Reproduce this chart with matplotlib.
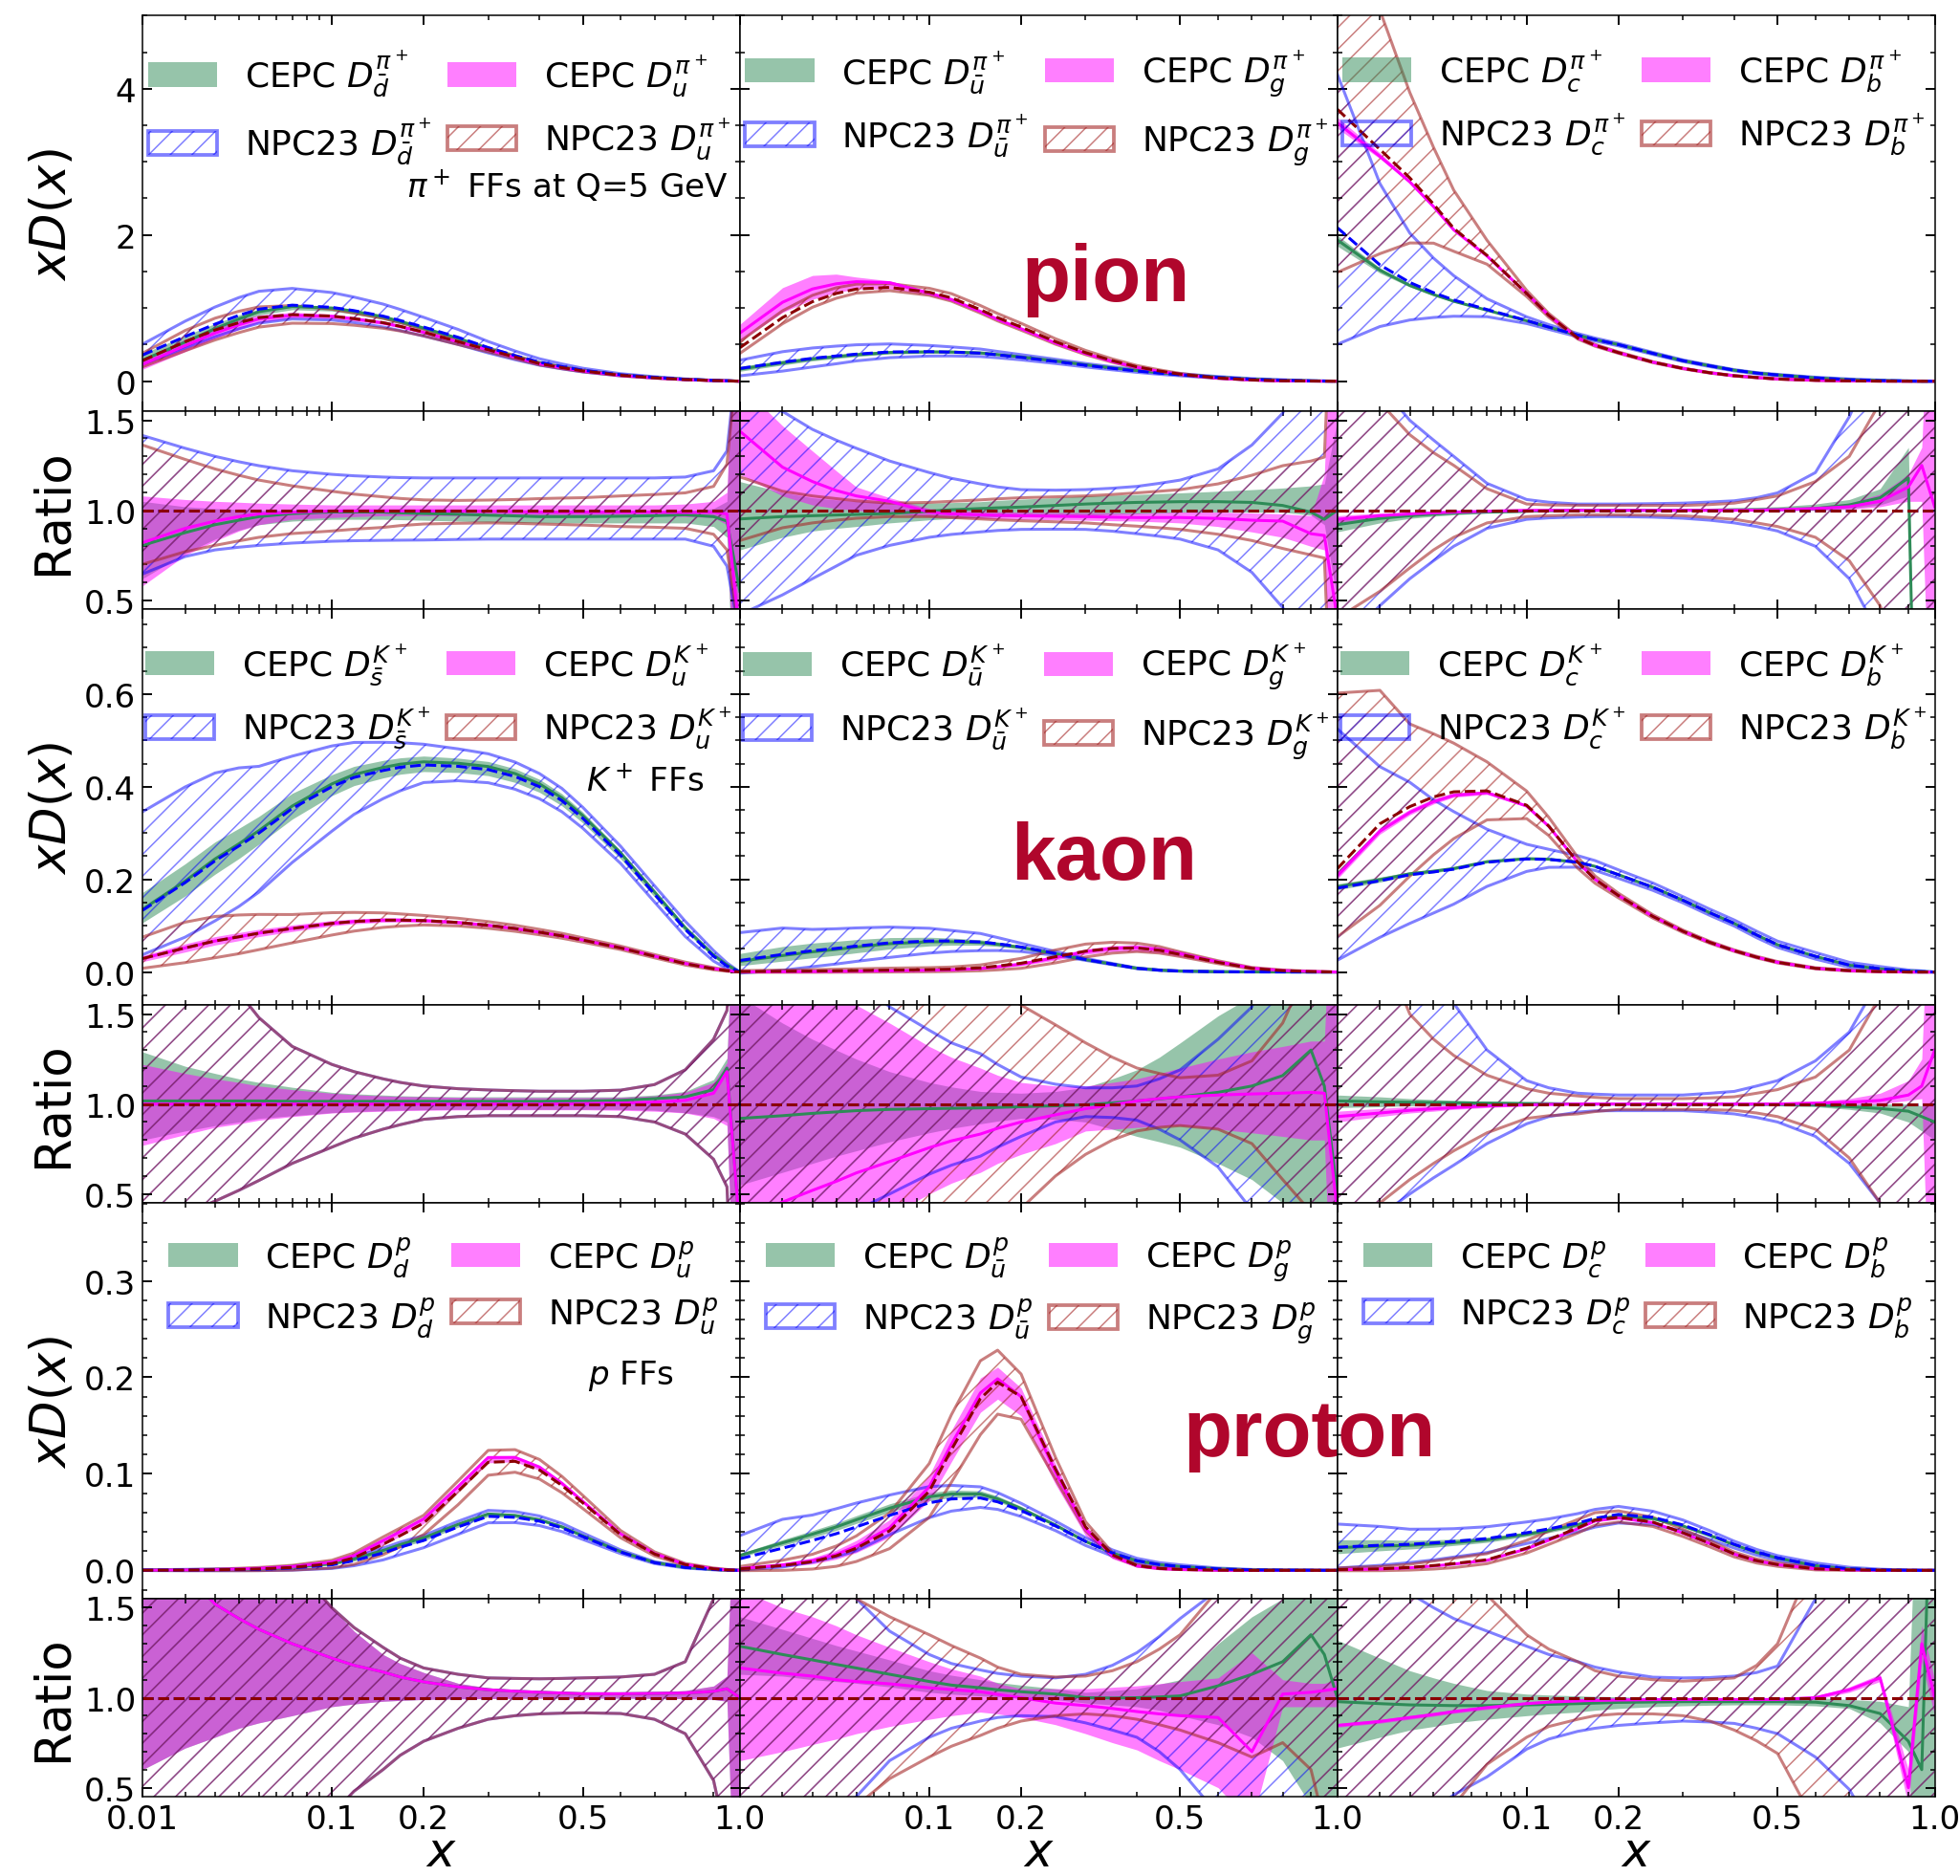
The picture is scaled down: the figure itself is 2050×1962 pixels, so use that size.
import numpy as np
import matplotlib
matplotlib.use("Agg")
import matplotlib.pyplot as plt
import matplotlib.patches as mpatches
from matplotlib.ticker import FixedLocator, FixedFormatter, MultipleLocator, FormatStrFormatter

DPI = 136.67
plt.rcParams['hatch.linewidth'] = 0.8

X = [0.01, 0.02, 0.03, 0.04, 0.05, 0.07, 0.1, 0.12, 0.15, 0.17, 0.2, 0.25, 0.3, 0.35, 0.4, 0.45,
     0.5, 0.6, 0.7, 0.8, 0.9, 0.95, 1.0]

# REF = NPC23 central xD(x); the rest are ratios to it
# (C = CEPC central, CLO/CHI = CEPC band, NLO/NHI = NPC23 band)

# pion: dbar / u
PI_DB_REF = [0.357, 0.61, 0.78, 0.90, 0.985, 1.04, 1.01, 0.965, 0.89, 0.83, 0.74, 0.60, 0.46, 0.35, 0.26, 0.20, 0.15, 0.087, 0.052, 0.026, 0.011, 0.005, 0.0]
PI_DB_C = [0.805, 0.876, 0.92, 0.945, 0.965, 0.982, 0.991, 0.991, 0.99, 0.986, 0.982, 0.978, 0.973, 0.969, 0.965, 0.965, 0.965, 0.967, 0.97, 0.975, 0.965, 0.94, 0.55]
PI_DB_CLO = [0.62, 0.76, 0.84, 0.89, 0.92, 0.94, 0.95, 0.95, 0.95, 0.948, 0.945, 0.94, 0.935, 0.932, 0.93, 0.93, 0.93, 0.93, 0.93, 0.93, 0.91, 0.85, -1.0]
PI_DB_CHI = [1.05, 1.02, 1.01, 1.005, 1.0, 1.0, 1.005, 1.005, 1.005, 1.002, 1.0, 0.995, 0.99, 0.988, 0.985, 0.985, 0.985, 0.985, 0.99, 0.995, 1.01, 1.05, 3.0]
PI_DB_NLO = [0.646, 0.743, 0.78, 0.795, 0.805, 0.818, 0.828, 0.831, 0.833, 0.834, 0.835, 0.838, 0.84, 0.84, 0.84, 0.84, 0.84, 0.84, 0.84, 0.84, 0.80, 0.69, 0.3]
PI_DB_NHI = [1.416, 1.345, 1.30, 1.27, 1.248, 1.22, 1.20, 1.192, 1.185, 1.182, 1.18, 1.18, 1.18, 1.18, 1.18, 1.18, 1.18, 1.18, 1.18, 1.185, 1.22, 1.33, 2.0]
PI_U_REF = [0.28, 0.54, 0.70, 0.80, 0.87, 0.91, 0.89, 0.855, 0.80, 0.75, 0.67, 0.54, 0.43, 0.33, 0.24, 0.185, 0.14, 0.08, 0.045, 0.022, 0.009, 0.004, 0.0]
PI_U_C = [0.82, 0.90, 0.94, 0.965, 0.98, 0.99, 0.996, 0.997, 0.997, 0.997, 0.997, 0.996, 0.995, 0.993, 0.99, 0.99, 0.99, 0.99, 0.99, 0.988, 0.99, 0.98, 0.3]
PI_U_CLO = [0.58, 0.75, 0.83, 0.885, 0.92, 0.95, 0.96, 0.965, 0.97, 0.97, 0.97, 0.97, 0.97, 0.97, 0.97, 0.97, 0.97, 0.97, 0.97, 0.965, 0.96, 0.92, -1.0]
PI_U_CHI = [1.08, 1.06, 1.05, 1.045, 1.04, 1.035, 1.03, 1.03, 1.03, 1.03, 1.03, 1.03, 1.03, 1.03, 1.03, 1.03, 1.03, 1.03, 1.03, 1.035, 1.05, 1.1, 3.0]
PI_U_NLO = [0.70, 0.77, 0.805, 0.83, 0.85, 0.871, 0.885, 0.895, 0.905, 0.915, 0.924, 0.928, 0.93, 0.928, 0.924, 0.921, 0.918, 0.91, 0.906, 0.90, 0.867, 0.78, 0.3]
PI_U_NHI = [1.363, 1.283, 1.23, 1.195, 1.168, 1.136, 1.106, 1.09, 1.075, 1.066, 1.058, 1.055, 1.057, 1.06, 1.065, 1.068, 1.07, 1.08, 1.088, 1.097, 1.133, 1.257, 2.0]

# pion: ubar / g
PI_UB_REF = [0.174, 0.26, 0.313, 0.345, 0.37, 0.40, 0.404, 0.398, 0.383, 0.36, 0.326, 0.27, 0.217, 0.175, 0.139, 0.11, 0.087, 0.052, 0.026, 0.013, 0.004, 0.002, 0.0]
PI_UB_C = [0.952, 0.965, 0.97, 0.974, 0.977, 0.982, 0.995, 1.003, 1.01, 1.014, 1.018, 1.027, 1.035, 1.04, 1.044, 1.046, 1.048, 1.048, 1.044, 1.027, 0.99, 0.95, 1.0]
PI_UB_CLO = [0.78, 0.85, 0.885, 0.90, 0.91, 0.93, 0.947, 0.954, 0.96, 0.963, 0.965, 0.97, 0.973, 0.977, 0.98, 0.984, 0.988, 0.99, 0.99, 0.99, 0.973, 0.92, 0.5]
PI_UB_CHI = [1.16, 1.10, 1.07, 1.058, 1.05, 1.044, 1.04, 1.043, 1.048, 1.055, 1.062, 1.07, 1.08, 1.084, 1.088, 1.093, 1.097, 1.106, 1.115, 1.124, 1.136, 1.147, 1.5]
PI_UB_NLO = [0.42, 0.53, 0.62, 0.69, 0.75, 0.805, 0.85, 0.866, 0.88, 0.888, 0.894, 0.895, 0.894, 0.884, 0.87, 0.856, 0.84, 0.78, 0.655, 0.46, 0.2, 0.0, -1.0]
PI_UB_NHI = [1.65, 1.55, 1.45, 1.39, 1.345, 1.274, 1.21, 1.178, 1.147, 1.13, 1.115, 1.112, 1.115, 1.123, 1.133, 1.15, 1.168, 1.23, 1.363, 1.54, 1.9, 2.3, 3.0]
PI_G_REF = [0.457, 0.87, 1.087, 1.20, 1.26, 1.283, 1.217, 1.14, 0.978, 0.87, 0.74, 0.54, 0.39, 0.28, 0.196, 0.14, 0.096, 0.043, 0.017, 0.005, 0.002, 0.001, 0.0]
PI_G_C = [1.44, 1.24, 1.16, 1.11, 1.08, 1.05, 0.99, 0.98, 0.975, 0.972, 0.97, 0.967, 0.965, 0.962, 0.96, 0.96, 0.96, 0.955, 0.945, 0.94, 0.87, 0.86, 0.4]
PI_G_CLO = [1.2, 1.08, 1.03, 1.01, 1.0, 0.985, 0.965, 0.96, 0.955, 0.952, 0.95, 0.947, 0.945, 0.942, 0.94, 0.935, 0.93, 0.91, 0.88, 0.85, 0.80, 0.78, -1.0]
PI_G_CHI = [1.7, 1.47, 1.33, 1.22, 1.13, 1.07, 1.01, 1.0, 0.995, 0.992, 0.99, 0.988, 0.987, 0.986, 0.985, 0.987, 0.99, 0.99, 0.985, 0.98, 0.97, 1.2, 3.0]
PI_G_NLO = [0.832, 0.903, 0.93, 0.945, 0.956, 0.965, 0.965, 0.96, 0.952, 0.947, 0.942, 0.936, 0.93, 0.92, 0.912, 0.903, 0.894, 0.867, 0.832, 0.788, 0.752, 0.735, -1.0]
PI_G_NHI = [1.186, 1.106, 1.08, 1.065, 1.053, 1.04, 1.044, 1.05, 1.058, 1.064, 1.07, 1.075, 1.08, 1.088, 1.097, 1.106, 1.115, 1.147, 1.195, 1.248, 1.274, 1.296, 3.0]

# pion: c / b
PI_C_REF = [2.10, 1.59, 1.35, 1.21, 1.11, 0.98, 0.83, 0.74, 0.63, 0.57, 0.50, 0.38, 0.28, 0.21, 0.15, 0.11, 0.085, 0.045, 0.02, 0.008, 0.002, 0.001, 0.0]
PI_C_C = [0.92, 0.955, 0.97, 0.979, 0.985, 0.99, 0.995, 0.998, 1.0, 1.0, 1.0, 1.0, 1.0, 1.001, 1.002, 1.003, 1.005, 1.01, 1.03, 1.07, 1.18, -2.0, -2.0]
PI_C_CLO = [0.88, 0.93, 0.955, 0.967, 0.975, 0.985, 0.99, 0.992, 0.995, 0.995, 0.995, 0.996, 0.997, 0.997, 0.998, 0.999, 1.0, 1.0, 1.01, 1.03, 1.08, -2.0, -2.0]
PI_C_CHI = [0.95, 0.975, 0.985, 0.99, 0.995, 1.0, 1.005, 1.005, 1.006, 1.006, 1.007, 1.008, 1.01, 1.012, 1.015, 1.017, 1.02, 1.035, 1.06, 1.12, 1.35, -2.0, -2.0]
PI_C_NLO = [0.24, 0.47, 0.62, 0.72, 0.80, 0.90, 0.95, 0.958, 0.963, 0.965, 0.965, 0.962, 0.956, 0.945, 0.93, 0.91, 0.885, 0.80, 0.62, 0.3, 0.0, -0.5, -1.0]
PI_C_NHI = [2.0, 1.7, 1.5, 1.39, 1.3, 1.15, 1.06, 1.045, 1.035, 1.035, 1.035, 1.037, 1.04, 1.046, 1.053, 1.07, 1.097, 1.21, 1.52, 1.9, 2.5, 3.0, 3.0]
PI_B_REF = [3.72, 3.17, 2.78, 2.42, 2.09, 1.72, 1.20, 0.90, 0.59, 0.49, 0.39, 0.26, 0.174, 0.115, 0.074, 0.05, 0.03, 0.012, 0.004, 0.001, 0.0, 0.0, 0.0]
PI_B_C = [0.95, 0.97, 0.98, 0.986, 0.99, 0.995, 1.0, 1.0, 1.0, 1.0, 1.0, 1.0, 1.0, 1.0, 1.0, 1.001, 1.003, 1.01, 1.02, 1.05, 1.13, 1.25, 1.02]
PI_B_CLO = [0.93, 0.96, 0.975, 0.981, 0.985, 0.99, 0.995, 0.996, 0.997, 0.997, 0.997, 0.997, 0.997, 0.997, 0.997, 0.997, 0.997, 1.0, 1.005, 1.02, 1.05, 1.05, -1.0]
PI_B_CHI = [0.97, 0.985, 0.99, 0.995, 1.0, 1.003, 1.005, 1.005, 1.006, 1.006, 1.007, 1.008, 1.008, 1.008, 1.009, 1.01, 1.01, 1.02, 1.04, 1.09, 1.2, 1.35, 3.0]
PI_B_NLO = [0.40, 0.55, 0.68, 0.78, 0.85, 0.93, 0.965, 0.97, 0.975, 0.975, 0.975, 0.973, 0.97, 0.96, 0.95, 0.93, 0.91, 0.85, 0.72, 0.47, 0.1, -0.3, -1.0]
PI_B_NHI = [2.0, 1.6, 1.42, 1.32, 1.25, 1.12, 1.035, 1.03, 1.028, 1.027, 1.027, 1.027, 1.027, 1.032, 1.04, 1.06, 1.08, 1.16, 1.30, 1.6, 2.0, 2.5, 3.0]

# kaon: sbar / u (NPC23 bands coincide)
KA_SB_REF = [0.133, 0.193, 0.24, 0.272, 0.30, 0.353, 0.40, 0.42, 0.435, 0.442, 0.447, 0.444, 0.437, 0.422, 0.40, 0.37, 0.332, 0.252, 0.168, 0.092, 0.034, 0.013, 0.0]
KA_SB_C = [1.017, 1.017, 1.017, 1.017, 1.017, 1.015, 1.015, 1.015, 1.015, 1.015, 1.015, 1.015, 1.015, 1.015, 1.015, 1.016, 1.017, 1.02, 1.03, 1.04, 1.08, 1.2, 0.3]
KA_SB_CLO = [0.80, 0.85, 0.88, 0.90, 0.92, 0.935, 0.952, 0.958, 0.963, 0.966, 0.968, 0.97, 0.97, 0.97, 0.97, 0.97, 0.97, 0.97, 0.965, 0.952, 0.93, 0.9, -1.0]
KA_SB_CHI = [1.29, 1.21, 1.17, 1.14, 1.12, 1.093, 1.065, 1.057, 1.05, 1.046, 1.043, 1.04, 1.04, 1.04, 1.04, 1.04, 1.04, 1.04, 1.05, 1.07, 1.136, 1.255, 3.0]
KA_U_REF = [0.029, 0.052, 0.067, 0.076, 0.084, 0.094, 0.105, 0.109, 0.112, 0.112, 0.111, 0.107, 0.101, 0.094, 0.086, 0.078, 0.069, 0.052, 0.034, 0.018, 0.007, 0.003, 0.0]
KA_U_C = [1.0, 1.0, 1.0, 1.0, 1.0, 1.0, 1.0, 1.0, 1.0, 1.0, 1.0, 1.0, 1.0, 1.0, 1.0, 1.001, 1.002, 1.005, 1.01, 1.02, 1.06, 1.18, 0.3]
KA_U_CLO = [0.77, 0.83, 0.87, 0.89, 0.91, 0.93, 0.95, 0.955, 0.96, 0.963, 0.965, 0.967, 0.968, 0.968, 0.968, 0.968, 0.968, 0.965, 0.96, 0.95, 0.92, 0.88, -1.0]
KA_U_CHI = [1.22, 1.17, 1.14, 1.12, 1.1, 1.08, 1.06, 1.052, 1.045, 1.042, 1.04, 1.037, 1.035, 1.035, 1.035, 1.035, 1.035, 1.037, 1.045, 1.065, 1.12, 1.23, 3.0]
KA_SU_NLO = [0.28, 0.39, 0.46, 0.52, 0.575, 0.67, 0.76, 0.81, 0.86, 0.885, 0.915, 0.93, 0.935, 0.935, 0.935, 0.935, 0.935, 0.93, 0.90, 0.833, 0.693, 0.54, -1.0]
KA_SU_NHI = [2.6, 2.07, 1.79, 1.62, 1.48, 1.32, 1.22, 1.18, 1.14, 1.12, 1.1, 1.085, 1.078, 1.074, 1.071, 1.071, 1.071, 1.077, 1.108, 1.19, 1.36, 1.52, 2.5]

# kaon: ubar / g
KA_UB_REF = [0.025, 0.038, 0.046, 0.051, 0.056, 0.063, 0.067, 0.067, 0.065, 0.061, 0.054, 0.040, 0.027, 0.017, 0.008, 0.004, 0.002, 0.0006, 0.0002, 0.0001, 0.0, 0.0, 0.0]
KA_UB_C = [0.92, 0.935, 0.948, 0.956, 0.963, 0.97, 0.974, 0.976, 0.978, 0.981, 0.985, 0.99, 0.996, 1.006, 1.017, 1.028, 1.04, 1.065, 1.10, 1.158, 1.30, 1.1, 0.5]
KA_UB_CLO = [0.55, 0.62, 0.67, 0.71, 0.74, 0.79, 0.84, 0.865, 0.89, 0.905, 0.92, 0.915, 0.9, 0.86, 0.82, 0.79, 0.76, 0.67, 0.58, 0.45, 0.3, -1.0, -1.0]
KA_UB_CHI = [1.6, 1.45, 1.36, 1.3, 1.25, 1.18, 1.12, 1.095, 1.07, 1.065, 1.06, 1.07, 1.093, 1.14, 1.19, 1.26, 1.34, 1.49, 1.6, 1.8, 2.2, 3.0, 3.0]
KA_UB_NLO = [-0.1, 0.1, 0.25, 0.34, 0.41, 0.5, 0.61, 0.66, 0.71, 0.76, 0.82, 0.9, 0.93, 0.925, 0.91, 0.86, 0.8, 0.65, 0.41, 0.1, -0.5, -1.0, -1.0]
KA_UB_NHI = [3.4, 2.5, 2.0, 1.83, 1.7, 1.54, 1.41, 1.34, 1.28, 1.22, 1.15, 1.11, 1.09, 1.09, 1.10, 1.14, 1.19, 1.36, 1.54, 2.0, 2.5, 3.0, 3.0]
KA_G_REF = [0.001, 0.0015, 0.002, 0.0025, 0.003, 0.004, 0.005, 0.006, 0.009, 0.013, 0.019, 0.033, 0.045, 0.051, 0.052, 0.047, 0.038, 0.021, 0.008, 0.003, 0.001, 0.0005, 0.0]
KA_G_C = [0.35, 0.455, 0.52, 0.57, 0.617, 0.68, 0.757, 0.795, 0.833, 0.865, 0.9, 0.94, 0.974, 0.996, 1.017, 1.03, 1.04, 1.05, 1.056, 1.06, 1.065, 1.06, 0.4]
KA_G_CLO = [0.0, 0.1, 0.18, 0.24, 0.3, 0.38, 0.5, 0.56, 0.62, 0.67, 0.72, 0.78, 0.85, 0.86, 0.87, 0.875, 0.88, 0.86, 0.84, 0.82, 0.80, 0.8, -1.0]
KA_G_CHI = [2.2, 1.9, 1.75, 1.64, 1.55, 1.45, 1.32, 1.26, 1.2, 1.16, 1.12, 1.1, 1.1, 1.12, 1.14, 1.17, 1.2, 1.25, 1.29, 1.32, 1.35, 1.35, 3.0]
KA_G_NLO = [-0.5, -0.4, -0.3, -0.2, -0.1, 0.0, 0.1, 0.2, 0.3, 0.36, 0.42, 0.6, 0.72, 0.8, 0.85, 0.87, 0.88, 0.86, 0.78, 0.58, 0.4, 0.1, -1.0]
KA_G_NHI = [3.0, 2.8, 2.6, 2.45, 2.3, 2.1, 1.9, 1.8, 1.7, 1.63, 1.55, 1.44, 1.34, 1.26, 1.2, 1.17, 1.146, 1.16, 1.24, 1.45, 1.8, 2.0, 2.5]

# kaon: c / b
KA_C_REF = [0.181, 0.197, 0.21, 0.216, 0.222, 0.237, 0.244, 0.243, 0.237, 0.228, 0.21, 0.183, 0.155, 0.128, 0.105, 0.08, 0.059, 0.034, 0.015, 0.007, 0.002, 0.001, 0.0]
KA_C_C = [1.017, 1.012, 1.01, 1.008, 1.007, 1.005, 1.003, 1.002, 1.0, 1.0, 1.0, 1.0, 1.0, 1.0, 1.0, 0.999, 0.998, 0.995, 0.985, 0.975, 0.96, 0.93, 0.9]
KA_C_CLO = [0.98, 0.985, 0.99, 0.992, 0.993, 0.995, 0.995, 0.995, 0.995, 0.995, 0.995, 0.995, 0.995, 0.994, 0.993, 0.992, 0.99, 0.985, 0.97, 0.95, 0.9, 0.85, 0.8]
KA_C_CHI = [1.05, 1.04, 1.03, 1.025, 1.02, 1.015, 1.01, 1.008, 1.005, 1.005, 1.005, 1.005, 1.005, 1.005, 1.005, 1.005, 1.005, 1.003, 1.0, 1.0, 1.0, 0.99, 0.99]
KA_C_NLO = [0.14, 0.38, 0.5, 0.59, 0.66, 0.78, 0.89, 0.93, 0.955, 0.962, 0.963, 0.963, 0.963, 0.955, 0.945, 0.925, 0.9, 0.82, 0.67, 0.45, 0.1, -0.3, -1.0]
KA_C_NHI = [2.9, 2.25, 1.95, 1.72, 1.56, 1.3, 1.13, 1.09, 1.06, 1.055, 1.05, 1.05, 1.05, 1.06, 1.07, 1.1, 1.13, 1.24, 1.4, 1.7, 2.2, 2.5, 3.0]
KA_B_REF = [0.223, 0.32, 0.357, 0.378, 0.389, 0.391, 0.36, 0.315, 0.237, 0.2, 0.165, 0.12, 0.088, 0.064, 0.046, 0.032, 0.021, 0.008, 0.003, 0.001, 0.0, 0.0, 0.0]
KA_B_C = [0.93, 0.95, 0.965, 0.973, 0.98, 0.99, 0.995, 0.998, 1.0, 1.0, 1.0, 1.0, 1.0, 1.0, 1.0, 1.0, 1.0, 1.005, 1.01, 1.02, 1.05, 1.1, 1.3]
KA_B_CLO = [0.9, 0.93, 0.95, 0.96, 0.97, 0.98, 0.99, 0.993, 0.995, 0.995, 0.995, 0.995, 0.995, 0.995, 0.995, 0.995, 0.995, 0.995, 0.995, 1.0, 1.02, 1.03, -1.0]
KA_B_CHI = [0.96, 0.975, 0.985, 0.99, 0.995, 1.0, 1.005, 1.005, 1.005, 1.005, 1.005, 1.005, 1.005, 1.006, 1.007, 1.008, 1.01, 1.015, 1.03, 1.06, 1.13, 1.25, 3.0]
KA_B_NLO = [0.34, 0.45, 0.58, 0.67, 0.74, 0.84, 0.92, 0.935, 0.945, 0.958, 0.97, 0.97, 0.97, 0.968, 0.965, 0.95, 0.93, 0.86, 0.7, 0.45, 0.1, -0.3, -1.0]
KA_B_NHI = [2.7, 1.9, 1.5, 1.36, 1.27, 1.16, 1.085, 1.06, 1.045, 1.037, 1.03, 1.03, 1.03, 1.034, 1.04, 1.06, 1.08, 1.15, 1.3, 1.6, 2.2, 2.5, 3.0]

# proton: d / u (ratios coincide)
PR_D_REF = [0.0002, 0.0004, 0.0006, 0.0008, 0.001, 0.0025, 0.0057, 0.01, 0.018, 0.024, 0.031, 0.045, 0.056, 0.055, 0.051, 0.044, 0.035, 0.019, 0.008, 0.003, 0.001, 0.0003, 0.0]
PR_U_REF = [0.0001, 0.0003, 0.0006, 0.001, 0.0015, 0.003, 0.007, 0.013, 0.027, 0.036, 0.049, 0.082, 0.112, 0.113, 0.104, 0.088, 0.07, 0.037, 0.017, 0.006, 0.0016, 0.0005, 0.0]
PR_DU_C = [2.0, 1.7, 1.52, 1.44, 1.38, 1.3, 1.22, 1.18, 1.143, 1.115, 1.088, 1.06, 1.044, 1.036, 1.03, 1.026, 1.022, 1.022, 1.024, 1.026, 1.035, 1.05, 1.0]
PR_DU_CLO = [0.6, 0.72, 0.78, 0.83, 0.86, 0.9, 0.95, 0.965, 0.98, 0.985, 0.99, 0.993, 0.995, 0.996, 0.997, 0.997, 0.997, 0.997, 0.996, 0.995, 0.99, 0.98, -1.0]
PR_DU_CHI = [3.0, 2.6, 2.3, 2.1, 1.95, 1.75, 1.5, 1.37, 1.24, 1.19, 1.14, 1.08, 1.055, 1.044, 1.035, 1.03, 1.025, 1.025, 1.03, 1.04, 1.065, 1.12, 3.0]
PR_DU_NLO = [-1.0, -0.8, -0.5, -0.35, -0.2, 0.1, 0.35, 0.48, 0.6, 0.68, 0.758, 0.83, 0.88, 0.9, 0.91, 0.914, 0.916, 0.912, 0.88, 0.8, 0.54, 0.2, -1.0]
PR_DU_NHI = [3.0, 2.6, 2.3, 2.15, 2.0, 1.75, 1.5, 1.39, 1.28, 1.22, 1.165, 1.13, 1.11, 1.107, 1.105, 1.107, 1.11, 1.115, 1.13, 1.2, 1.55, 2.0, 3.0]

# proton: ubar / g
PR_UB_REF = [0.012, 0.023, 0.031, 0.038, 0.045, 0.057, 0.07, 0.074, 0.075, 0.071, 0.062, 0.046, 0.030, 0.018, 0.010, 0.006, 0.004, 0.0015, 0.0005, 0.0002, 0.0001, 0.0, 0.0]
PR_UB_C = [1.286, 1.24, 1.21, 1.185, 1.165, 1.13, 1.09, 1.07, 1.055, 1.044, 1.033, 1.02, 1.0, 0.998, 1.0, 1.004, 1.01, 1.066, 1.13, 1.2, 1.35, 1.24, 1.0]
PR_UB_CLO = [1.13, 1.12, 1.1, 1.09, 1.08, 1.06, 1.03, 1.02, 1.01, 1.005, 1.0, 0.99, 0.97, 0.96, 0.95, 0.93, 0.9, 0.85, 0.78, 0.65, 0.4, -1.0, -1.0]
PR_UB_CHI = [1.45, 1.38, 1.33, 1.29, 1.26, 1.21, 1.15, 1.125, 1.1, 1.085, 1.07, 1.05, 1.03, 1.04, 1.05, 1.075, 1.1, 1.3, 1.45, 1.55, 1.6, 3.0, 3.0]
PR_UB_NLO = [0.0, 0.15, 0.28, 0.37, 0.45, 0.65, 0.78, 0.83, 0.87, 0.89, 0.9, 0.895, 0.86, 0.82, 0.78, 0.7, 0.6, 0.35, 0.1, -0.2, -0.5, -1.0, -1.0]
PR_UB_NHI = [3.0, 2.3, 1.85, 1.68, 1.55, 1.37, 1.24, 1.19, 1.154, 1.135, 1.12, 1.11, 1.13, 1.18, 1.25, 1.34, 1.44, 1.6, 1.9, 2.2, 2.5, 3.0, 3.0]
PR_G_REF = [0.0016, 0.005, 0.009, 0.015, 0.023, 0.041, 0.082, 0.125, 0.178, 0.195, 0.18, 0.105, 0.045, 0.016, 0.005, 0.002, 0.001, 0.0002, 0.0, 0.0, 0.0, 0.0, 0.0]
PR_G_C = [1.165, 1.136, 1.12, 1.1, 1.09, 1.077, 1.055, 1.045, 1.033, 1.018, 1.0, 0.97, 0.956, 0.94, 0.923, 0.91, 0.9, 0.89, 0.7, 1.02, 1.03, 1.04, 1.05]
PR_G_CLO = [0.65, 0.7, 0.74, 0.77, 0.8, 0.84, 0.88, 0.9, 0.92, 0.91, 0.89, 0.85, 0.8, 0.75, 0.71, 0.65, 0.6, 0.5, 0.3, 0.95, 0.95, 0.95, 0.95]
PR_G_CHI = [1.6, 1.5, 1.45, 1.4, 1.35, 1.28, 1.2, 1.16, 1.12, 1.08, 1.05, 1.05, 1.05, 1.058, 1.066, 1.078, 1.09, 1.11, 1.25, 1.1, 1.08, 1.08, 1.1]
PR_G_NLO = [-0.2, 0.0, 0.15, 0.28, 0.4, 0.55, 0.67, 0.73, 0.79, 0.83, 0.87, 0.9, 0.91, 0.9, 0.88, 0.85, 0.82, 0.75, 0.67, 0.75, 0.6, 0.3, -1.0]
PR_G_NHI = [2.5, 2.1, 1.85, 1.68, 1.55, 1.45, 1.35, 1.29, 1.22, 1.17, 1.13, 1.115, 1.12, 1.15, 1.2, 1.27, 1.35, 1.6, 2.0, 2.5, 3.0, 3.0, 3.0]

# proton: c / b
PR_C_REF = [0.024, 0.026, 0.027, 0.0285, 0.030, 0.033, 0.039, 0.043, 0.049, 0.054, 0.058, 0.055, 0.047, 0.037, 0.027, 0.019, 0.013, 0.005, 0.0016, 0.0005, 0.0001, 0.0, 0.0]
PR_C_C = [0.978, 0.967, 0.96, 0.958, 0.956, 0.956, 0.96, 0.963, 0.967, 0.97, 0.974, 0.976, 0.978, 0.978, 0.978, 0.978, 0.978, 0.975, 0.956, 0.912, 0.758, 0.6, 3.0]
PR_C_CLO = [0.72, 0.78, 0.82, 0.84, 0.86, 0.88, 0.9, 0.91, 0.92, 0.93, 0.94, 0.95, 0.955, 0.958, 0.96, 0.96, 0.96, 0.955, 0.94, 0.86, 0.7, -1.0, -1.0]
PR_C_CHI = [1.32, 1.22, 1.15, 1.11, 1.08, 1.04, 1.02, 1.015, 1.01, 1.007, 1.005, 1.0, 1.0, 1.0, 1.0, 1.0, 1.0, 1.0, 0.99, 0.98, 0.95, 3.0, 3.0]
PR_C_NLO = [0.1, 0.2, 0.3, 0.38, 0.46, 0.56, 0.714, 0.77, 0.813, 0.83, 0.846, 0.86, 0.87, 0.865, 0.857, 0.83, 0.8, 0.67, 0.49, 0.2, -0.2, -0.5, -1.0]
PR_C_NHI = [2.0, 1.75, 1.58, 1.5, 1.44, 1.37, 1.286, 1.24, 1.2, 1.17, 1.143, 1.114, 1.11, 1.112, 1.12, 1.14, 1.176, 1.55, 2.0, 2.5, 3.0, 3.0, 3.0]
PR_B_REF = [0.0008, 0.0016, 0.003, 0.005, 0.007, 0.011, 0.023, 0.032, 0.044, 0.052, 0.055, 0.05, 0.039, 0.028, 0.017, 0.010, 0.006, 0.0016, 0.0005, 0.0001, 0.0, 0.0, 0.0]
PR_B_C = [0.846, 0.868, 0.89, 0.907, 0.923, 0.945, 0.967, 0.975, 0.982, 0.985, 0.987, 0.989, 0.99, 0.99, 0.99, 0.99, 0.99, 1.0, 1.044, 1.11, 0.5, 1.3, 1.0]
PR_B_CLO = [0.836, 0.858, 0.88, 0.897, 0.913, 0.935, 0.957, 0.965, 0.972, 0.975, 0.977, 0.979, 0.98, 0.98, 0.98, 0.98, 0.98, 0.99, 1.03, 1.09, 0.4, 1.2, 0.9]
PR_B_CHI = [0.856, 0.878, 0.9, 0.917, 0.933, 0.955, 0.977, 0.985, 0.992, 0.995, 0.997, 0.999, 1.0, 1.0, 1.0, 1.0, 1.0, 1.01, 1.06, 1.13, 0.6, 1.4, 1.1]
PR_B_NLO = [-0.5, -0.2, 0.1, 0.27, 0.4, 0.63, 0.78, 0.84, 0.88, 0.9, 0.91, 0.91, 0.9, 0.87, 0.82, 0.76, 0.69, 0.3, 0.0, -0.5, -1.0, -1.0, -1.0]
PR_B_NHI = [3.0, 2.5, 2.1, 1.93, 1.8, 1.57, 1.35, 1.27, 1.2, 1.15, 1.12, 1.1, 1.092, 1.1, 1.11, 1.18, 1.3, 1.8, 2.5, 3.0, 3.0, 3.0, 3.0]

FLAV = {
    (0, 0): [(PI_DB_REF, PI_DB_C, PI_DB_CLO, PI_DB_CHI, PI_DB_NLO, PI_DB_NHI),
             (PI_U_REF, PI_U_C, PI_U_CLO, PI_U_CHI, PI_U_NLO, PI_U_NHI)],
    (0, 1): [(PI_UB_REF, PI_UB_C, PI_UB_CLO, PI_UB_CHI, PI_UB_NLO, PI_UB_NHI),
             (PI_G_REF, PI_G_C, PI_G_CLO, PI_G_CHI, PI_G_NLO, PI_G_NHI)],
    (0, 2): [(PI_C_REF, PI_C_C, PI_C_CLO, PI_C_CHI, PI_C_NLO, PI_C_NHI),
             (PI_B_REF, PI_B_C, PI_B_CLO, PI_B_CHI, PI_B_NLO, PI_B_NHI)],
    (1, 0): [(KA_SB_REF, KA_SB_C, KA_SB_CLO, KA_SB_CHI, KA_SU_NLO, KA_SU_NHI),
             (KA_U_REF, KA_U_C, KA_U_CLO, KA_U_CHI, KA_SU_NLO, KA_SU_NHI)],
    (1, 1): [(KA_UB_REF, KA_UB_C, KA_UB_CLO, KA_UB_CHI, KA_UB_NLO, KA_UB_NHI),
             (KA_G_REF, KA_G_C, KA_G_CLO, KA_G_CHI, KA_G_NLO, KA_G_NHI)],
    (1, 2): [(KA_C_REF, KA_C_C, KA_C_CLO, KA_C_CHI, KA_C_NLO, KA_C_NHI),
             (KA_B_REF, KA_B_C, KA_B_CLO, KA_B_CHI, KA_B_NLO, KA_B_NHI)],
    (2, 0): [(PR_D_REF, PR_DU_C, PR_DU_CLO, PR_DU_CHI, PR_DU_NLO, PR_DU_NHI),
             (PR_U_REF, PR_DU_C, PR_DU_CLO, PR_DU_CHI, PR_DU_NLO, PR_DU_NHI)],
    (2, 1): [(PR_UB_REF, PR_UB_C, PR_UB_CLO, PR_UB_CHI, PR_UB_NLO, PR_UB_NHI),
             (PR_G_REF, PR_G_C, PR_G_CLO, PR_G_CHI, PR_G_NLO, PR_G_NHI)],
    (2, 2): [(PR_C_REF, PR_C_C, PR_C_CLO, PR_C_CHI, PR_C_NLO, PR_C_NHI),
             (PR_B_REF, PR_B_C, PR_B_CLO, PR_B_CHI, PR_B_NLO, PR_B_NHI)],
}

for key, pair in FLAV.items():
    for arrs in pair:
        for a in arrs:
            if len(a) != len(X):
                raise ValueError('bad length in panel %s: %d' % (key, len(a)))

HADRON = [r'\pi^+', r'K^+', r'p']
QUARKS = [[(r'\bar{d}', 'u'), (r'\bar{u}', 'g'), ('c', 'b')],
          [(r'\bar{s}', 'u'), (r'\bar{u}', 'g'), ('c', 'b')],
          [('d', 'u'), (r'\bar{u}', 'g'), ('c', 'b')]]

YLIM = [(-0.413, 5.0), (-0.0713, 0.783), (-0.0294, 0.3807)]
YMAJ = [2.0, 0.2, 0.1]
YMIN = [0.5, 0.05, 0.02]
YFMT = ['%d', '%.1f', '%.1f']
LEG_X = [0.009, 0.005, 0.044]

GREEN = 'seagreen'
MAG = 'magenta'
NBLUE = (0.0, 0.0, 1.0, 0.5)
NBROWN = (0.65, 0.16, 0.16, 0.6)

x = np.array(X)


def draw(ax, scale, pair):
    (r1, c1, l1, h1, nl1, nh1), (r2, c2, l2, h2, nl2, nh2) = pair
    s1 = np.array(r1) if scale else np.ones_like(x)
    s2 = np.array(r2) if scale else np.ones_like(x)
    ax.fill_between(x, s1 * np.array(l1), s1 * np.array(h1), color=GREEN, alpha=0.5, lw=0)
    ax.fill_between(x, s2 * np.array(l2), s2 * np.array(h2), color=MAG, alpha=0.5, lw=0)
    for s, lo, hi, col in [(s1, nl1, nh1, NBLUE), (s2, nl2, nh2, NBROWN)]:
        ax.fill_between(x, s * np.array(lo), s * np.array(hi), facecolor='none',
                        edgecolor=col, hatch='//', lw=0)
        ax.plot(x, s * np.array(lo), color=col, lw=1.6)
        ax.plot(x, s * np.array(hi), color=col, lw=1.6)
    ax.plot(x, s1 * np.array(c1), color=GREEN, lw=1.6)
    ax.plot(x, s2 * np.array(c2), color=MAG, lw=1.6)
    ax.plot(x, s1, color='blue', ls='--', lw=1.6)
    ax.plot(x, s2, color='darkred', ls='--', lw=1.6)


fig, axes = plt.subplots(6, 3, figsize=(2050 / DPI, 1963 / DPI), dpi=DPI,
                         sharex='col', sharey='row',
                         gridspec_kw=dict(height_ratios=[2, 1, 2, 1, 2, 1]))
fig.subplots_adjust(left=149 / 2050, right=2023.5 / 2050, top=1 - 17.3 / 1963,
                    bottom=1 - 1880 / 1963, hspace=0, wspace=0)

for h in range(3):
    for col in range(3):
        ax = axes[2 * h, col]
        rax = axes[2 * h + 1, col]
        pair = FLAV[(h, col)]
        draw(ax, True, pair)
        draw(rax, False, pair)

        q1, q2 = QUARKS[h][col]
        hd = HADRON[h]
        handles = [
            mpatches.Patch(facecolor=GREEN, alpha=0.5, edgecolor='none',
                           label=r'CEPC $D_{%s}^{%s}$' % (q1, hd)),
            mpatches.Patch(facecolor='none', edgecolor=NBLUE, hatch='//', lw=2,
                           label=r'NPC23 $D_{%s}^{%s}$' % (q1, hd)),
            mpatches.Patch(facecolor=MAG, alpha=0.5, edgecolor='none',
                           label=r'CEPC $D_{%s}^{%s}$' % (q2, hd)),
            mpatches.Patch(facecolor='none', edgecolor=NBROWN, hatch='//', lw=2,
                           label=r'NPC23 $D_{%s}^{%s}$' % (q2, hd)),
        ]
        ax.legend(handles=handles, ncol=2, loc='upper left',
                  bbox_to_anchor=(LEG_X[h], 0.92), frameon=False, fontsize=19,
                  borderaxespad=0, borderpad=0, columnspacing=0.45,
                  handlelength=2.0, handletextpad=0.8, labelspacing=0.5)

        ax.set_ylim(*YLIM[h])
        ax.yaxis.set_major_locator(MultipleLocator(YMAJ[h]))
        ax.yaxis.set_minor_locator(MultipleLocator(YMIN[h]))
        ax.yaxis.set_major_formatter(FormatStrFormatter(YFMT[h]))
        rax.set_ylim(0.45, 1.55)
        rax.yaxis.set_major_locator(FixedLocator([0.5, 1.0, 1.5]))
        rax.yaxis.set_minor_locator(MultipleLocator(0.1))
        rax.yaxis.set_major_formatter(FormatStrFormatter('%.1f'))

        if col == 0:
            ax.set_ylabel(r'$xD(x)$', fontsize=27)
            rax.set_ylabel('Ratio', fontsize=27)
            ax.yaxis.set_label_coords(-0.11, 0.5)
            rax.yaxis.set_label_coords(-0.11, 0.5)

for col in range(3):
    for ax in axes[:, col]:
        ax.set_xscale('function', functions=(np.cbrt, lambda v: v ** 3))
        ax.set_xlim(0.01, 1.0)
        ax.tick_params(which='both', direction='in', top=True, right=True, labelsize=18)
        ax.tick_params(which='major', length=5.3, width=1.0)
        ax.tick_params(which='minor', length=2.7, width=0.8)
        if col > 0:
            ax.tick_params(labelleft=False)
    ax0 = axes[0, col]
    ax0.xaxis.set_major_locator(FixedLocator([0.01, 0.1, 0.2, 0.5, 1.0]))
    ax0.xaxis.set_minor_locator(FixedLocator([0.02, 0.03, 0.04, 0.05, 0.06, 0.07, 0.08, 0.09,
                                              0.3, 0.4, 0.6, 0.7, 0.8, 0.9]))
    labels = ['0.01', '0.1', '0.2', '0.5', '1.0'] if col == 0 else ['', '0.1', '0.2', '0.5', '1.0']
    ax0.xaxis.set_major_formatter(FixedFormatter(labels))
    axes[-1, col].set_xlabel(r'$x$', fontsize=26, labelpad=-3)

axes[0, 0].text(0.98, 0.542, r'$\pi^+$ FFs at Q=5 GeV', transform=axes[0, 0].transAxes,
                ha='right', va='baseline', fontsize=18)
axes[2, 0].text(0.9406, 0.542, r'$K^+$ FFs', transform=axes[2, 0].transAxes,
                ha='right', va='baseline', fontsize=18)
axes[4, 0].text(0.89, 0.543, r'$p$ FFs', transform=axes[4, 0].transAxes,
                ha='right', va='baseline', fontsize=18)

for name, fx, fy in [('pion', 0.564, 0.8395), ('kaon', 0.5634, 0.5313), ('proton', 0.668, 0.2239)]:
    fig.text(fx, fy, name, ha='center', va='baseline', fontsize=44, fontweight='bold',
             color='#b0062c', family='Liberation Sans', zorder=10)

fig.savefig('out.png', dpi=DPI)
